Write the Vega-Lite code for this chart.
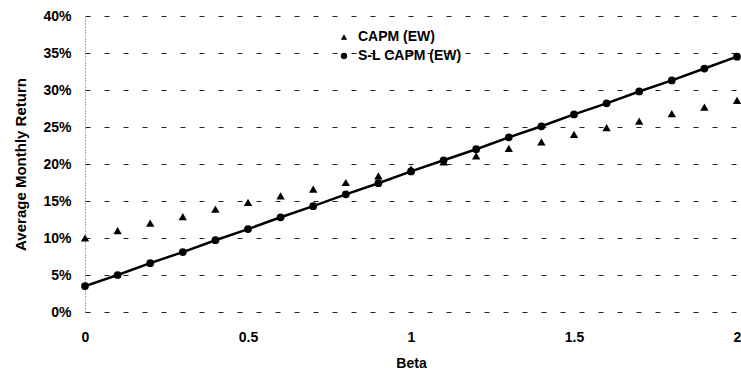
{
  "$schema": "https://vega.github.io/schema/vega-lite/v6.json",
  "width": 652,
  "height": 296,
  "autosize": "none",
  "padding": {"left": 85, "top": 16, "right": 4, "bottom": 59},
  "background": "white",
  "config": {
    "font": "Liberation Sans",
    "view": {"stroke": null},
    "axis": {"labelFont": "Liberation Sans", "titleFont": "Liberation Sans", "labelFontWeight": "bold", "titleFontWeight": "bold", "labelColor": "black", "titleColor": "black", "labelFontSize": 14, "titleFontSize": 14}
  },
  "data": {
    "values": [
      {"beta": 0.0, "ret": 10.0, "series": "CAPM (EW)"},
      {"beta": 0.1, "ret": 11.0, "series": "CAPM (EW)"},
      {"beta": 0.2, "ret": 12.0, "series": "CAPM (EW)"},
      {"beta": 0.3, "ret": 12.9, "series": "CAPM (EW)"},
      {"beta": 0.4, "ret": 13.9, "series": "CAPM (EW)"},
      {"beta": 0.5, "ret": 14.8, "series": "CAPM (EW)"},
      {"beta": 0.6, "ret": 15.7, "series": "CAPM (EW)"},
      {"beta": 0.7, "ret": 16.6, "series": "CAPM (EW)"},
      {"beta": 0.8, "ret": 17.5, "series": "CAPM (EW)"},
      {"beta": 0.9, "ret": 18.4, "series": "CAPM (EW)"},
      {"beta": 1.0, "ret": 19.3, "series": "CAPM (EW)"},
      {"beta": 1.1, "ret": 20.3, "series": "CAPM (EW)"},
      {"beta": 1.2, "ret": 21.1, "series": "CAPM (EW)"},
      {"beta": 1.3, "ret": 22.1, "series": "CAPM (EW)"},
      {"beta": 1.4, "ret": 23.0, "series": "CAPM (EW)"},
      {"beta": 1.5, "ret": 24.0, "series": "CAPM (EW)"},
      {"beta": 1.6, "ret": 24.9, "series": "CAPM (EW)"},
      {"beta": 1.7, "ret": 25.8, "series": "CAPM (EW)"},
      {"beta": 1.8, "ret": 26.8, "series": "CAPM (EW)"},
      {"beta": 1.9, "ret": 27.7, "series": "CAPM (EW)"},
      {"beta": 2.0, "ret": 28.6, "series": "CAPM (EW)"},
      {"beta": 0.0, "ret": 3.5, "series": "S-L CAPM (EW)"},
      {"beta": 0.1, "ret": 5.0, "series": "S-L CAPM (EW)"},
      {"beta": 0.2, "ret": 6.6, "series": "S-L CAPM (EW)"},
      {"beta": 0.3, "ret": 8.1, "series": "S-L CAPM (EW)"},
      {"beta": 0.4, "ret": 9.7, "series": "S-L CAPM (EW)"},
      {"beta": 0.5, "ret": 11.2, "series": "S-L CAPM (EW)"},
      {"beta": 0.6, "ret": 12.8, "series": "S-L CAPM (EW)"},
      {"beta": 0.7, "ret": 14.3, "series": "S-L CAPM (EW)"},
      {"beta": 0.8, "ret": 15.9, "series": "S-L CAPM (EW)"},
      {"beta": 0.9, "ret": 17.4, "series": "S-L CAPM (EW)"},
      {"beta": 1.0, "ret": 19.0, "series": "S-L CAPM (EW)"},
      {"beta": 1.1, "ret": 20.5, "series": "S-L CAPM (EW)"},
      {"beta": 1.2, "ret": 22.0, "series": "S-L CAPM (EW)"},
      {"beta": 1.3, "ret": 23.6, "series": "S-L CAPM (EW)"},
      {"beta": 1.4, "ret": 25.1, "series": "S-L CAPM (EW)"},
      {"beta": 1.5, "ret": 26.7, "series": "S-L CAPM (EW)"},
      {"beta": 1.6, "ret": 28.2, "series": "S-L CAPM (EW)"},
      {"beta": 1.7, "ret": 29.8, "series": "S-L CAPM (EW)"},
      {"beta": 1.8, "ret": 31.3, "series": "S-L CAPM (EW)"},
      {"beta": 1.9, "ret": 32.9, "series": "S-L CAPM (EW)"},
      {"beta": 2.0, "ret": 34.5, "series": "S-L CAPM (EW)"}
    ]
  },
  "encoding": {
    "x": {
      "field": "beta", "type": "quantitative",
      "scale": {"domain": [0, 2], "nice": false},
      "axis": {"title": "Beta", "values": [0, 0.5, 1, 1.5, 2], "format": "~g", "grid": false, "domain": false, "ticks": false, "labelPadding": 18, "titlePadding": 12, "labelFlush": false}
    },
    "y": {
      "field": "ret", "type": "quantitative",
      "scale": {"domain": [0, 40], "nice": false},
      "axis": {"title": "Average Monthly Return", "titleFontSize": 15, "values": [0, 5, 10, 15, 20, 25, 30, 35, 40], "labelExpr": "datum.value + '%'", "grid": true, "gridDash": [5, 14], "gridColor": "#222", "gridWidth": 1, "domain": true, "domainDash": [1, 2], "domainColor": "#555", "ticks": false, "labelPadding": 14, "titlePadding": 14}
    }
  },
  "layer": [
    {
      "transform": [{"filter": "datum.series === 'S-L CAPM (EW)'"}],
      "mark": {"type": "line", "color": "black", "strokeWidth": 2.5},
      "encoding": {}
    },
    {
      "mark": {"type": "point", "filled": true, "opacity": 1, "color": "black"},
      "encoding": {
        "shape": {
          "field": "series", "type": "nominal",
          "scale": {"domain": ["CAPM (EW)", "S-L CAPM (EW)"], "range": ["triangle-up", "circle"]},
          "legend": {"title": null, "orient": "none", "legendX": 252, "legendY": 14, "labelFont": "Liberation Sans", "labelFontWeight": "bold", "labelFontSize": 14, "labelColor": "black", "symbolSize": 40, "symbolFillColor": "black", "symbolStrokeColor": "black", "rowPadding": 5, "labelOffset": 7}
        },
        "size": {"condition": {"test": "datum.series === 'CAPM (EW)'", "value": 70}, "value": 60}
      }
    }
  ]
}
